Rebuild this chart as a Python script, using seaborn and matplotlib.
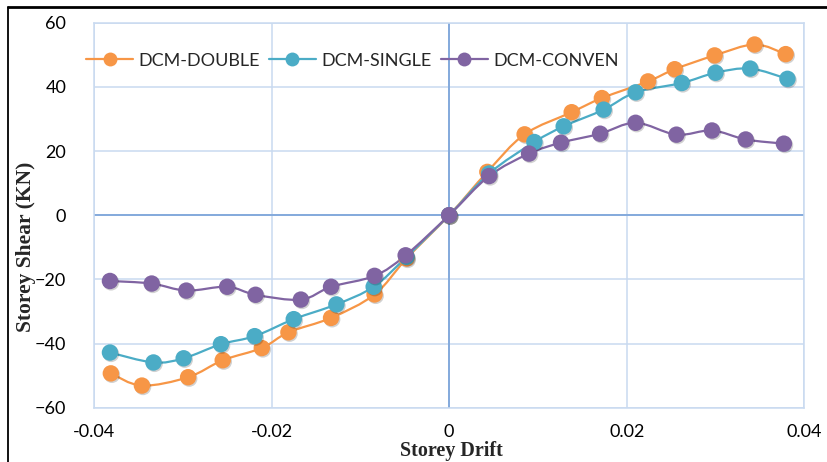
import numpy as np
import pandas as pd
import matplotlib
matplotlib.use("Agg")
import matplotlib.pyplot as plt
import matplotlib.patheffects as pe
from matplotlib.path import Path
from matplotlib.patches import PathPatch
from matplotlib.lines import Line2D
import seaborn as sns

# Storey drift vs storey shear for three damper configurations
series_names = ["DCM-DOUBLE", "DCM-SINGLE", "DCM-CONVEN"]
series_colors = ["#F79646", "#4BACC6", "#8064A2"]

double_drift = [-0.0381, -0.0346, -0.0294, -0.0255, -0.0211, -0.0181, -0.0133, -0.0084, -0.0048, 0.0,
                0.0043, 0.0085, 0.0138, 0.0172, 0.0224, 0.0254, 0.0299, 0.0344, 0.0379]
double_shear = [-49.3, -53.1, -50.5, -45.2, -41.4, -36.5, -32.0, -24.7, -13.5, 0.0,
                13.5, 25.2, 32.1, 36.5, 41.7, 45.5, 49.8, 53.2, 50.2]

single_drift = [-0.0382, -0.0333, -0.0299, -0.0257, -0.0219, -0.0175, -0.0127, -0.0085, -0.0048, 0.0,
                0.0045, 0.0096, 0.0129, 0.0174, 0.0210, 0.0262, 0.0300, 0.0339, 0.0381]
single_shear = [-42.8, -45.9, -44.6, -40.2, -37.7, -32.4, -27.8, -22.3, -13.0, 0.0,
                13.0, 22.8, 27.7, 32.9, 38.3, 41.2, 44.4, 45.7, 42.5]

conven_drift = [-0.0382, -0.0335, -0.0296, -0.0250, -0.0218, -0.0167, -0.0133, -0.0084, -0.0049, 0.0,
                0.0045, 0.0090, 0.0126, 0.0170, 0.0210, 0.0256, 0.0296, 0.0334, 0.0377]
conven_shear = [-20.5, -21.3, -23.5, -22.3, -24.8, -26.3, -22.3, -18.9, -12.5, 0.0,
                12.2, 19.2, 22.6, 25.4, 28.8, 25.1, 26.4, 23.6, 22.3]

x_ticks = [-0.04, -0.02, 0, 0.02, 0.04]
x_tick_labels = ["-0.04", "-0.02", "0", "0.02", "0.04"]
y_ticks = [-60, -40, -20, 0, 20, 40, 60]

frames = []
for name, xs, ys in [(series_names[0], double_drift, double_shear),
                     (series_names[1], single_drift, single_shear),
                     (series_names[2], conven_drift, conven_shear)]:
    frames.append(pd.DataFrame({"drift": xs, "shear": ys, "series": name}))
df = pd.concat(frames, ignore_index=True)

sns.set_style("white")
plt.rcParams["font.family"] = ["Lato", "DejaVu Sans"]

fig = plt.figure(figsize=(8.28, 4.62), dpi=100)
ax = fig.add_axes([0.1135, 0.1175, 0.8579, 0.8334])

grid_c = "#C9DAF0"
axis_c = "#7EA6DA"


def smooth_path(xs, ys):
    """Cubic Bezier path through the points (Catmull-Rom style control points)."""
    p = np.column_stack([xs, ys]).astype(float)
    n = len(p)
    verts = [p[0]]
    codes = [Path.MOVETO]
    for i in range(n - 1):
        p0 = p[i - 1] if i > 0 else p[i]
        p1 = p[i]
        p2 = p[i + 1]
        p3 = p[i + 2] if i + 2 < n else p[i + 1]
        c1 = p1 + (p2 - p0) / 6.0
        c2 = p2 - (p3 - p1) / 6.0
        verts += [c1, c2, p2]
        codes += [Path.CURVE4] * 3
    return Path(verts, codes)


marker_fx = [pe.SimplePatchShadow(offset=(0.8, -1.0), shadow_rgbFace="black", alpha=0.18),
             pe.Normal()]

# smoothed connecting lines, in data coordinates, with markers on top
for name, color in zip(series_names, series_colors):
    sub = df[df["series"] == name]
    patch = PathPatch(smooth_path(sub["drift"].values, sub["shear"].values),
                      facecolor="none", edgecolor=color, lw=1.6, zorder=3)
    ax.add_patch(patch)
    sns.scatterplot(data=sub, x="drift", y="shear", color=color, s=140,
                    linewidth=0, ax=ax, zorder=4, legend=False,
                    path_effects=marker_fx)

ax.set_xlim(-0.04, 0.04)
ax.set_ylim(-60, 60)
ax.set_xticks(x_ticks)
ax.set_xticklabels(x_tick_labels)
ax.set_yticks(y_ticks)
ax.grid(True, color=grid_c, lw=1.1, zorder=0)
ax.set_axisbelow(True)
for s in ax.spines.values():
    s.set_color(grid_c)
    s.set_linewidth(1.1)
ax.axhline(0, color=axis_c, lw=1.3, zorder=1)
ax.axvline(0, color=axis_c, lw=1.3, zorder=1)

ax.tick_params(axis="both", length=0, labelsize=13, colors="black")
ax.tick_params(axis="x", pad=12)
ax.tick_params(axis="y", pad=20)

ax.set_xlabel("")
ax.set_ylabel("")
fig.text(0.5447, 0.013, "Storey Drift", ha="center", va="baseline",
         fontsize=14.5, fontweight="bold", family="Liberation Serif")
fig.text(0.031, 0.465, "Storey Shear (KN)", ha="center", va="center", rotation=90,
         fontsize=15.5, fontweight="bold", family="Liberation Serif")

handles = [Line2D([0], [0], color=c, lw=1.6, marker="o", markersize=10,
                  markeredgewidth=0, markerfacecolor=c) for c in series_colors]
ax.legend(handles, series_names, loc="center left", bbox_to_anchor=(0.104, 0.869),
          bbox_transform=fig.transFigure, ncol=3, frameon=False, fontsize=13,
          handlelength=2.6, handletextpad=0.3, columnspacing=0.5, borderpad=0,
          borderaxespad=0)

# outer frame lines (left and top)
fig.add_artist(Line2D([0.0097, 0.0097], [0.0, 0.984], transform=fig.transFigure,
                      color="black", lw=1.3))
fig.add_artist(Line2D([0.0097, 1.0], [0.984, 0.984], transform=fig.transFigure,
                      color="black", lw=2.0))

fig.savefig("out.png", dpi=100)
